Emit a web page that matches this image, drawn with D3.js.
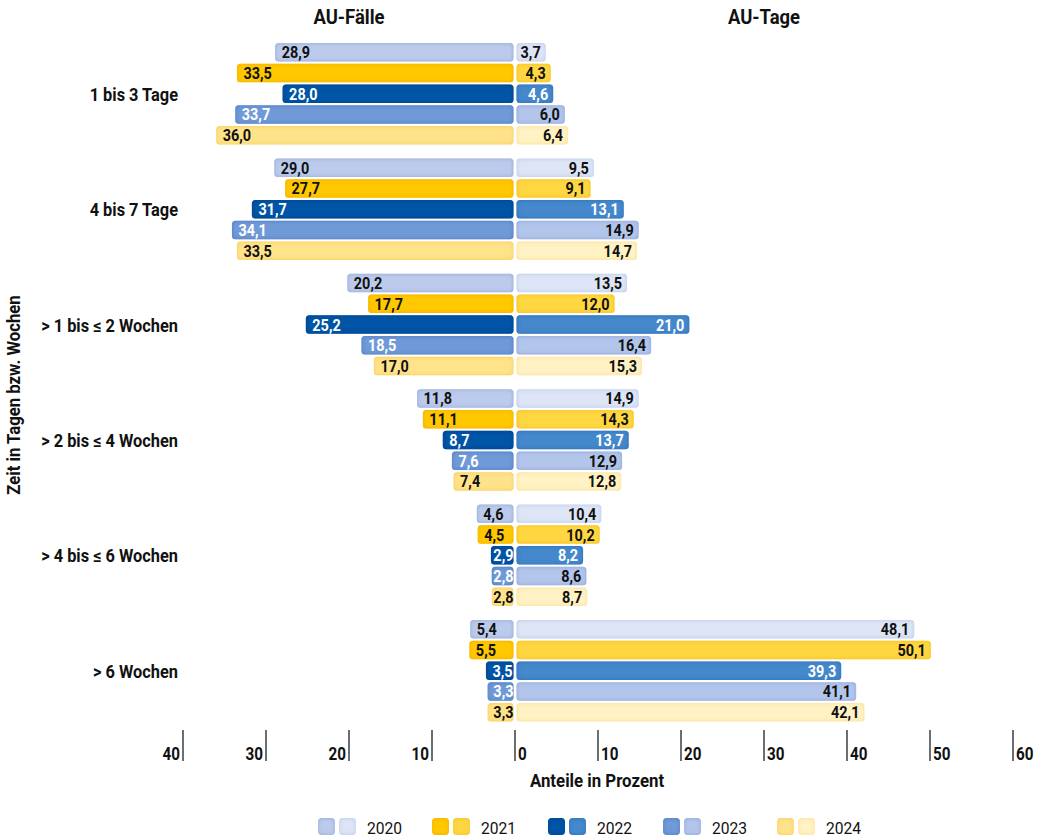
<!DOCTYPE html>
<html>
<head>
<meta charset="utf-8">
<script src="https://cdn.jsdelivr.net/npm/d3@7"></script>
<style>
  html, body { margin: 0; padding: 0; background: #fff; }
  svg { display: block; font-family: Roboto, "Noto Sans", sans-serif; }
</style>
</head>
<body>
<svg id="chart" width="1045" height="839"></svg>
<script>
// Duration classes (rows) and years (series)
const categories = ["1 bis 3 Tage", "4 bis 7 Tage", "> 1 bis \u2264 2 Wochen", "> 2 bis \u2264 4 Wochen", "> 4 bis \u2264 6 Wochen", "> 6 Wochen"];
const years = ["2020", "2021", "2022", "2023", "2024"];

// Share of sick-leave cases (AU-Fälle) per duration class, per year
const faelle2020 = [28.9, 29.0, 20.2, 11.8, 4.6, 5.4];
const faelle2021 = [33.5, 27.7, 17.7, 11.1, 4.5, 5.5];
const faelle2022 = [28.0, 31.7, 25.2, 8.7, 2.9, 3.5];
const faelle2023 = [33.7, 34.1, 18.5, 7.6, 2.8, 3.3];
const faelle2024 = [36.0, 33.5, 17.0, 7.4, 2.8, 3.3];

// Share of sick-leave days (AU-Tage) per duration class, per year
const tage2020 = [3.7, 9.5, 13.5, 14.9, 10.4, 48.1];
const tage2021 = [4.3, 9.1, 12.0, 14.3, 10.2, 50.1];
const tage2022 = [4.6, 13.1, 21.0, 13.7, 8.2, 39.3];
const tage2023 = [6.0, 14.9, 16.4, 12.9, 8.6, 41.1];
const tage2024 = [6.4, 14.7, 15.3, 12.8, 8.7, 42.1];

const leftTicks = [40, 30, 20, 10, 0];
const rightTicks = [0, 10, 20, 30, 40, 50, 60];

const faelle = [faelle2020, faelle2021, faelle2022, faelle2023, faelle2024];
const tage = [tage2020, tage2021, tage2022, tage2023, tage2024];

// Colours: centre fill and edge glow, dark shade for cases (left), light shade for days (right)
const colours = {
  "2020": { left: "#bccbeb", right: "#dde5f6", ledge: "#8aa3d8", redge: "#b3c4e9", ltext: "#111", rtext: "#111" },
  "2021": { left: "#ffc800", right: "#ffd743", ledge: "#eeac00", redge: "#f3bc14", ltext: "#111", rtext: "#111" },
  "2022": { left: "#0055a6", right: "#4488cc", ledge: "#003f8a", redge: "#2b6cb4", ltext: "#fff", rtext: "#fff" },
  "2023": { left: "#6f9ad7", right: "#b2c5ea", ledge: "#4676c1", redge: "#87a2d8", ltext: "#fff", rtext: "#111" },
  "2024": { left: "#ffe38a", right: "#fff2c4", ledge: "#f5c94a", redge: "#f9dc85", ltext: "#111", rtext: "#111" }
};

const svg = d3.select("#chart");
const zeroX = 515;
const xLeft = d3.scaleLinear().domain([0, 40]).range([zeroX, zeroX - 40 * 8.3]);
const xRight = d3.scaleLinear().domain([0, 60]).range([zeroX, zeroX + 60 * 8.3]);

const yGroup = d3.scaleBand().domain(categories).range([43, 43 + 5 * 115.4 + 101.5])
  .paddingInner(13.9 / 115.4).paddingOuter(0);
const yBar = d3.scaleBand().domain(years).range([0, yGroup.bandwidth()]).paddingInner(0.108).paddingOuter(0);

// Condensed text: horizontally squeezed glyphs
function label(g, x, y, str, o = {}) {
  const sx = o.sx ?? 0.86;
  return g.append("text")
    .attr("transform", `translate(${x},${y}) scale(${sx},1)`)
    .attr("text-anchor", o.anchor || "start")
    .attr("font-size", o.size || 16)
    .attr("font-weight", o.weight || "bold")
    .attr("fill", o.fill || "#111")
    .text(str);
}

// Inner glow filters give the bars their soft bevelled edges
const defs = svg.append("defs");
function addGlow(id, edge) {
  const f = defs.append("filter").attr("id", id)
    .attr("x", "-10%").attr("y", "-30%").attr("width", "120%").attr("height", "160%");
  f.append("feFlood").attr("flood-color", edge).attr("flood-opacity", 1).attr("result", "flood");
  f.append("feComposite").attr("in", "flood").attr("in2", "SourceAlpha").attr("operator", "out").attr("result", "outside");
  f.append("feGaussianBlur").attr("in", "outside").attr("stdDeviation", 2.2).attr("result", "blur");
  f.append("feComposite").attr("in", "blur").attr("in2", "SourceAlpha").attr("operator", "in").attr("result", "inner");
  const m = f.append("feMerge");
  m.append("feMergeNode").attr("in", "SourceGraphic");
  m.append("feMergeNode").attr("in", "inner");
}
years.forEach(yr => {
  addGlow("fl" + yr, colours[yr].ledge);
  addGlow("fr" + yr, colours[yr].redge);
});

const fmt = v => d3.format(".1f")(v).replace(".", ",");

const rows = [];
categories.forEach((cat, ci) => {
  years.forEach((yr, yi) => {
    rows.push({ cat, yr, f: faelle[yi][ci], t: tage[yi][ci] });
  });
});

const valSize = 17, valSx = 0.85;
const bars = svg.append("g");
rows.forEach(d => {
  const y = yGroup(d.cat) + yBar(d.yr);
  const h = yBar.bandwidth();
  const c = colours[d.yr];
  // cases to the left
  const xl = xLeft(d.f);
  bars.append("rect")
    .attr("x", xl).attr("y", y).attr("width", xLeft(0) - xl - 1.5).attr("height", h)
    .attr("rx", 3.5).attr("fill", c.left).attr("filter", `url(#fl${d.yr})`);
  const tl = label(bars, 0, 0, fmt(d.f), { size: valSize, fill: c.ltext, sx: valSx });
  const wl = tl.node().getComputedTextLength() * valSx;
  const lx = Math.min(xl + 6.5, xLeft(0) - 1.5 - wl);
  tl.attr("transform", `translate(${lx},${y + h / 2 + 6}) scale(${valSx},1)`);
  // days to the right
  const xr = xRight(d.t);
  bars.append("rect")
    .attr("x", xRight(0) + 1.5).attr("y", y).attr("width", xr - xRight(0) - 1.5).attr("height", h)
    .attr("rx", 3.5).attr("fill", c.right).attr("filter", `url(#fr${d.yr})`);
  label(bars, xr - 5, y + h / 2 + 6, fmt(d.t), { size: valSize, fill: c.rtext, anchor: "end", sx: valSx });
});

// Category labels
const catG = svg.append("g");
categories.forEach(cat => {
  label(catG, 178, yGroup(cat) + yGroup.bandwidth() / 2 + 7, cat, { size: 18, anchor: "end", sx: 0.91 });
});

// Axis ticks
const axisY0 = 730, axisY1 = 761;
const tickG = svg.append("g");
leftTicks.forEach(t => {
  const x = xLeft(t);
  tickG.append("line").attr("x1", x).attr("x2", x).attr("y1", axisY0).attr("y2", axisY1)
    .attr("stroke", "#6b6e72").attr("stroke-width", 2);
  if (t !== 0) label(tickG, x - 3, axisY1 - 1, t, { size: 17.5, anchor: "end", sx: 0.87 });
});
rightTicks.forEach(t => {
  const x = xRight(t);
  if (t !== 0) tickG.append("line").attr("x1", x).attr("x2", x).attr("y1", axisY0).attr("y2", axisY1)
    .attr("stroke", "#6b6e72").attr("stroke-width", 2);
  label(tickG, x + 3, axisY1 - 1, t, { size: 17.5, sx: 0.87 });
});

// Titles
label(svg, 349, 24, "AU-F\u00e4lle", { size: 20.5, anchor: "middle", sx: 0.9 });
label(svg, 764, 24, "AU-Tage", { size: 20.5, anchor: "middle", sx: 0.9 });
label(svg, 597, 787, "Anteile in Prozent", { size: 18.5, anchor: "middle", sx: 0.91 });
svg.append("text").attr("transform", "translate(20,395) rotate(-90) scale(0.93,1)").attr("text-anchor", "middle")
  .attr("font-size", 18).attr("font-weight", "bold").attr("fill", "#111").text("Zeit in Tagen bzw. Wochen");

// Legend
const legendX = [318, 432, 548, 663, 777];
const lg = svg.append("g");
years.forEach((yr, i) => {
  const x = legendX[i];
  lg.append("rect").attr("x", x).attr("y", 818).attr("width", 17).attr("height", 17).attr("rx", 4)
    .attr("fill", colours[yr].left).attr("filter", `url(#fl${yr})`);
  lg.append("rect").attr("x", x + 21).attr("y", 818).attr("width", 17).attr("height", 17).attr("rx", 4)
    .attr("fill", colours[yr].right).attr("filter", `url(#fr${yr})`);
  label(lg, x + 49, 834, yr, { size: 17, weight: "normal", sx: 0.92 });
});
</script>
</body>
</html>
